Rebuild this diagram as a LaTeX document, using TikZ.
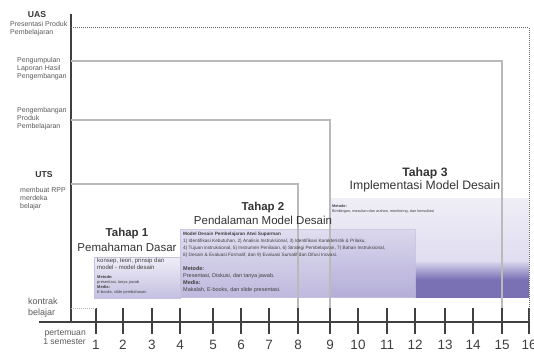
\documentclass[tikz,border=0pt]{standalone}
\usepackage{fontspec}
\setmainfont{Liberation Sans}
\usetikzlibrary{positioning}

\definecolor{lavPale}{HTML}{EFEEF7}
\definecolor{lavSoft}{HTML}{D6D3EB}
\definecolor{lavMid}{HTML}{A9A2D2}
\definecolor{lavDark}{HTML}{7A71B5}
\definecolor{lavLine}{HTML}{C6C1E0}

\begin{document}
\begin{tikzpicture}[x=1pt, y=-1pt, >=latex]

    %
    % Styles for axes, levels and stages
    %
    \tikzstyle{axisLine} = [draw=black!75, line width=1.3pt]
    \tikzstyle{tickLine} = [draw=black!75, line width=1.1pt]
    \tikzstyle{levelLine} = [draw=black!27, line width=1.2pt]
    \tikzstyle{examLine} = [draw=black!60, densely dotted, line width=1pt]
    \tikzstyle{sideLabel} = [align=left, anchor=west, inner sep=0pt, text=black!65, font={\fontsize{7}{8}\selectfont}]
    \tikzstyle{examName} = [inner sep=0pt, text=black!80, font={\fontsize{8.6}{10}\selectfont\bfseries}]
    \tikzstyle{stageName} = [align=center, inner sep=0pt, text=black!80, font={\fontsize{11.5}{14.5}\selectfont}]
    \tikzstyle{stageNote} = [align=left, anchor=west, inner sep=0pt, text=black!75]
    \tikzstyle{meetNum} = [inner sep=0pt, text=black!75, font={\fontsize{13.5}{15}\selectfont}]

    \useasboundingbox (0,0) rectangle (534,352);

    %
    % Stage boxes
    %
    \shade[top color=lavPale, bottom color=lavSoft] (330,199) rectangle (529,297);
    \shade[top color=lavSoft, bottom color=lavDark, middle color=lavDark] (415,262) rectangle (529,297);
    \shade[top color=lavSoft, bottom color=lavMid, draw=lavLine, opacity=0.75] (180,229) rectangle (415,297);
    \shade[top color=lavPale, bottom color=lavSoft!60!lavMid, draw=lavLine] (94,257) rectangle (180,298);

    %
    % Axes and meetings
    %
    \coordinate (origin) at (71,322);
    \coordinate (axisTop) at (71,14);
    \coordinate (axisLeft) at (39,322);
    \coordinate (axisRight) at (529,322);
    \draw[axisLine] (axisLeft) -- (axisRight);
    \draw[axisLine] (axisTop) -- (origin);
    \foreach \x [count=\i] in {96,123,152,180,213,241,269,298,330,358,387,415,445,473,502,529} {
        \coordinate (tick\i) at (\x,308);
        \draw[tickLine] (tick\i) -- ++(0,26);
        \node[meetNum, name=num\i] at (\x,344.5) {\i};
    }

    %
    % Levels: exams and tasks
    %
    \coordinate (lvUas) at (71,28);
    \coordinate (lvCollect) at (71,61);
    \coordinate (lvDevelop) at (71,120);
    \coordinate (lvUts) at (71,184);
    \draw[examLine] (lvUas) -| (axisRight);
    \draw[levelLine] (lvCollect) -| (tick15);
    \draw[levelLine] (lvDevelop) -| (tick9);
    \draw[levelLine] (lvUts) -| (tick8);
    \draw[examLine, draw=black!30] (origin |- tick1) -- (tick1);

    \node[examName, name=uas] at (37,15) {UAS};
    \node[sideLabel, name=uasTask] at (10,29) {Presentasi Produk\\Pembelajaran};
    \node[sideLabel, name=collect] at (17,69) {Pengumpulan\\Laporan Hasil\\Pengembangan};
    \node[sideLabel, name=develop] at (17,119) {Pengembangan\\Produk\\Pembelajaran};
    \node[examName, name=uts] at (44,175) {UTS};
    \node[sideLabel, name=utsTask] at (20,199) {membuat RPP\\merdeka\\belajar};
    \node[sideLabel, name=contract, font={\fontsize{9}{11}\selectfont}] at (28,307.5) {kontrak\\belajar};
    \node[sideLabel, name=meetings, align=right, anchor=east, font={\fontsize{8.6}{9.5}\selectfont}] at (86,337.5) {pertemuan\\1 semester};

    %
    % Stages
    %
    \node[stageName, name=stageOne] at (127,240) {\textbf{Tahap 1}\\Pemahaman Dasar};
    \node[stageNote, name=oneTopic, font={\fontsize{6}{6.7}\selectfont}] at (97,264) {konsep, teori, prinsip dan\\model - model desain};
    \node[stageNote, name=oneMethod, font={\fontsize{4}{5}\selectfont}] at (97,284.5) {\textbf{Metode:}\\presentasi, tanya jawab\\\textbf{Media:}\\E-books, slide pembahasan};

    \node[stageName, name=stageTwo] at (263,213.5) {\textbf{Tahap 2}\\Pendalaman Model Desain};
    \node[stageNote, name=twoModel, font={\fontsize{4.7}{7}\selectfont}] at (183,244.5) {\textbf{Model Desain Pembelajaran Atwi Suparman}\\1) Identifikasi Kebutuhan, 2) Analisis Instruksional, 3) Identifikasi Karakteristik \& Prilaku,\\4) Tujuan instruksional, 5) Instrumen Penilaian, 6) Strategi Pembelajaran, 7) Bahan Instruksional,\\8) Desain \& Evaluasi Formatif, dan 9) Evaluasi Sumatif dan Difusi Inovasi.};
    \node[stageNote, name=twoMethod, font={\fontsize{5.5}{7}\selectfont}] at (183,279.5) {\textbf{Metode:}\\Presentasi, Diskusi, dan tanya jawab.\\\textbf{Media:}\\Makalah, E-books, dan slide presentasi.};

    \node[stageName, name=stageThree, font={\fontsize{12.2}{13}\selectfont}] at (425,179.5) {\textbf{Tahap 3}\\Implementasi Model Desain};
    \node[stageNote, name=threeMethod, font={\fontsize{3.8}{5}\selectfont}] at (332,209.5) {\textbf{Metode:}\\Bimbingan, masukan dan arahan, monitoring, dan konsultasi};

\end{tikzpicture}
\end{document}
